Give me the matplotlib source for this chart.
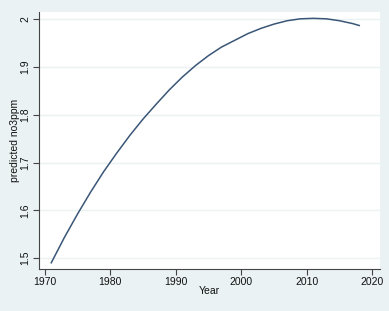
import matplotlib
matplotlib.use("Agg")
import matplotlib.pyplot as plt

years = [1971, 1973, 1975, 1977, 1979, 1981, 1983, 1985, 1987, 1989, 1991, 1993,
         1995, 1997, 1999, 2001, 2003, 2005, 2007, 2009, 2011, 2013, 2015, 2017, 2018]
predicted = [1.490, 1.543, 1.592, 1.638, 1.681, 1.720, 1.757, 1.791, 1.822, 1.852,
             1.879, 1.903, 1.924, 1.942, 1.956, 1.970, 1.981, 1.990, 1.997, 2.001,
             2.002, 2.001, 1.997, 1.991, 1.987]
x_ticks = [1970, 1980, 1990, 2000, 2010, 2020]
y_ticks = [1.5, 1.6, 1.7, 1.8, 1.9, 2.0]
y_ticklabels = ["1.5", "1.6", "1.7", "1.8", "1.9", "2"]

W, H = 389, 311
bg = "#EAF2F3"
fig = plt.figure(figsize=(W / 100, H / 100), dpi=100, facecolor=bg)
ax = fig.add_axes([38.7 / W, 1 - 268.7 / H, (380 - 38.7) / W, (268.7 - 12) / H])
ax.set_facecolor("white")

ax.plot(years, predicted, color="#3a5677", lw=1.1)

ax.set_xlim(1969.08, 2021.17)
ax.set_ylim(1.4776, 2.0153)
ax.set_xticks(x_ticks)
ax.set_yticks(y_ticks)
ax.set_yticklabels(y_ticklabels, rotation=90, va="center")
ax.grid(axis="y", color=bg, lw=1.0)
ax.set_axisbelow(True)

for s in ["top", "right"]:
    ax.spines[s].set_visible(False)
for s in ["left", "bottom"]:
    ax.spines[s].set_color("#444444")
    ax.spines[s].set_linewidth(0.8)

font = "Liberation Sans"
ax.tick_params(axis="both", direction="out", length=4, width=0.8, color="#444444",
               labelsize=7.5, labelcolor="#111111", pad=2)
for lab in ax.get_xticklabels() + ax.get_yticklabels():
    lab.set_fontfamily(font)

fig.text(209 / W, 1 - 291.5 / H, "Year", ha="center", va="center",
         fontsize=7.5, family=font, color="#111111")
fig.text(15 / W, 1 - 140 / H, "predicted no3ppm", ha="center", va="center",
         rotation=90, fontsize=7.5, family=font, color="#111111")

fig.savefig("out.png", dpi=100, facecolor=bg)
